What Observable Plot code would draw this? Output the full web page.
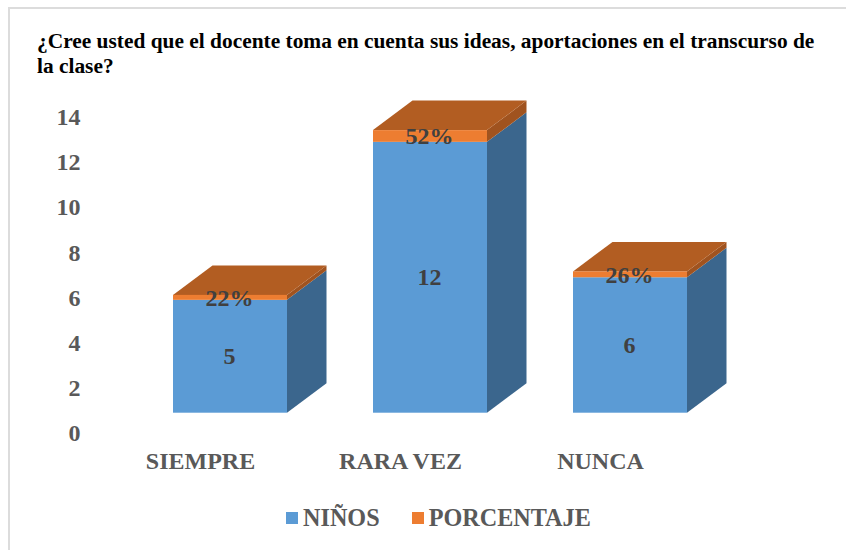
<!DOCTYPE html>
<html lang="es">
<head>
<meta charset="utf-8">
<script src="https://cdn.jsdelivr.net/npm/d3@7"></script>
<script src="https://cdn.jsdelivr.net/npm/@observablehq/plot@0.6"></script>
<style>
  html, body { margin: 0; padding: 0; background: #fff; }
  #page { position: relative; width: 846px; height: 550px; overflow: hidden; font-family: "Liberation Serif", serif; font-weight: bold; }
  #frame { position: absolute; left: 8px; top: 7px; right: -5px; bottom: -5px; border: 2px solid #dcdcdc; }
  #title { position: absolute; left: 37px; top: 29px; width: 790px; font-size: 21.4px; line-height: 25px; color: #000; }
  #chart { position: absolute; left: 0; top: 85px; }
  #legend { position: absolute; top: 504px; left: 286px; display: flex; align-items: center; font-size: 24.2px; line-height: 28px; color: #595959; white-space: nowrap; }
  #legend i { display: inline-block; width: 12px; height: 12px; margin-right: 5px; }
  #legend span { display: flex; align-items: center; margin-right: 32px; }
</style>
</head>
<body>
<div id="page">
  <div id="frame"></div>
  <div id="title"></div>
  <div id="chart"></div>
  <div id="legend"></div>
</div>
<script>
const titleText = "¿Cree usted que el docente toma en cuenta sus ideas, aportaciones en el transcurso de la clase?";
const categories = ["SIEMPRE", "RARA VEZ", "NUNCA"];
const seriesNames = ["NIÑOS", "PORCENTAJE"];
const ninos = [5, 12, 6];
const porcentaje = [0.22, 0.52, 0.26];
const ninosLabels = ["5", "12", "6"];
const porcentajeLabels = ["22%", "52%", "26%"];
const yTicks = [0, 2, 4, 6, 8, 10, 12, 14];

const frontColors = ["#5B9BD5", "#ED7D31"];
const sideColors = ["#3B668D", "#A0531F"];
const topColor = "#B25D22";
const font = "Liberation Serif";
const shiftX = 30, shiftY = -20.3, depthX = 39.5, depthY = -29.5;

const rows = [
  ...categories.map((c, i) => ({cat: c, series: seriesNames[0], value: ninos[i], label: ninosLabels[i]})),
  ...categories.map((c, i) => ({cat: c, series: seriesNames[1], value: porcentaje[i], label: porcentajeLabels[i]}))
];

// Turns a stacked bar into a receding 3D face, positioned from the scaled channels
function face(kind) {
  return (index, scales, values, dims, context) => {
    const g = d3.select(context.document.createElementNS("http://www.w3.org/2000/svg", "g"));
    const w = scales.x.bandwidth();
    for (const i of index) {
      const xL = values.x[i] + shiftX, xR = xL + w;
      const y1 = values.y1[i] + shiftY, y2 = values.y2[i] + shiftY;
      const pts = kind === "side"
        ? [[xR, y1], [xR + depthX, y1 + depthY], [xR + depthX, y2 + depthY], [xR, y2]]
        : [[xL, y2], [xL + depthX, y2 + depthY], [xR + depthX, y2 + depthY], [xR, y2]];
      const series = rows[i].series;
      if (kind === "top" && series !== seriesNames[1]) continue;
      g.append("polygon")
        .attr("points", pts.join(" "))
        .attr("fill", kind === "top" ? topColor : sideColors[seriesNames.indexOf(series)]);
    }
    return g.node();
  };
}

const stack = {x: "cat", y: "value", z: "series", order: null};

const plot = Plot.plot({
  width: 846,
  height: 395,
  marginLeft: 80,
  marginRight: 0,
  marginTop: 0,
  marginBottom: 47,
  style: {background: "transparent", overflow: "visible"},
  x: {type: "band", domain: categories, range: [100, 700], paddingInner: 0.43, paddingOuter: 0.215, axis: null, label: null},
  y: {domain: [0, 14], range: [348, 32], axis: null, label: null},
  color: {domain: seriesNames, range: frontColors},
  marks: [
    Plot.axisY({ticks: yTicks, tickSize: 0, tickPadding: 0, label: null, fontSize: 24, fontFamily: font, fontWeight: "bold", color: "#595959", tickFormat: d => String(d)}),
    Plot.axisX({tickSize: 0, tickPadding: 18, label: null, fontSize: 24, fontFamily: font, fontWeight: "bold", color: "#595959"}),
    Plot.barY(rows, {...stack, render: face("side")}),
    Plot.barY(rows, {...stack, render: face("top")}),
    Plot.barY(rows, {...stack, fill: "series", dx: shiftX, dy: shiftY}),
    Plot.text(rows, Plot.stackY({x: "cat", y: "value", z: "series", order: null, text: "label", dx: shiftX - 1, dy: shiftY, fontSize: 24, fontFamily: font, fontWeight: "bold", fill: "#404040"}))
  ]
});

document.getElementById("chart").append(plot);
document.getElementById("title").textContent = titleText;
const legend = document.getElementById("legend");
seriesNames.forEach((name, i) => {
  const s = document.createElement("span");
  const sw = document.createElement("i");
  sw.style.background = frontColors[i];
  s.append(sw, name);
  legend.append(s);
});
</script>
</body>
</html>
